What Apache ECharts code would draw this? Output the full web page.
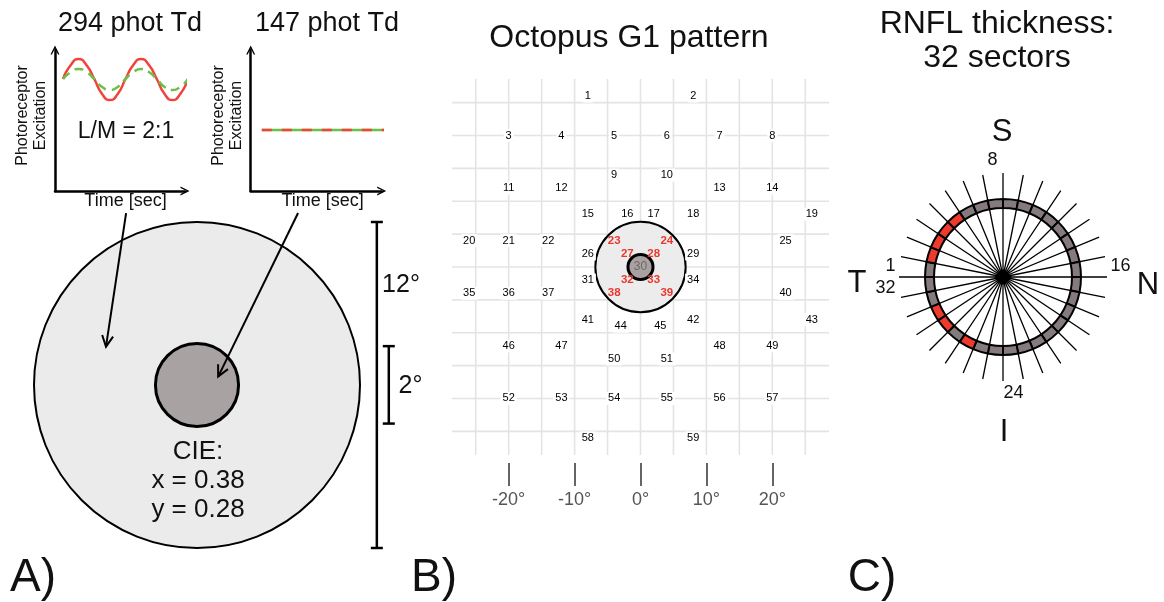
<!DOCTYPE html>
<html><head><meta charset="utf-8">
<script src="https://cdn.jsdelivr.net/npm/echarts@6/dist/echarts.min.js"></script>
<style>html,body{margin:0;padding:0;background:#fff}#c{width:1164px;height:602px}</style>
</head><body><div id="c"></div>
<script>
// ---------- Panel A: photoreceptor excitation traces ----------
const timeSamples = [8,15.8,23.6,31.4,39.3,47.1,54.9,62.7,70.5,78.3,86.1,93.9,101.8,109.6,117.4,125.2,133];
const lConeExcitation = [112,126,132,126,112,97,91,97,112,126,132,126,112,97,91,97,112];
const mConeExcitation = [112,119,122,119,112,104,101,104,112,119,122,119,112,104,101,104,112];
const flatTime = [11, 134];
const flatLExcitation = [61, 61];
const flatMExcitation = [61, 61];
// ---------- Panel A: stimulus (degrees) ----------
const stimulusRadii = [6, 1.53];            // surround, centre
const scaleBarSpans = [[-6, 6], [-1.42, 1.43]];
const scaleBarLabels = ['12°', '2°'];
const arrowStarts = [[-2.61, 6.33], [3.72, 6.33]];
const arrowEnds = [[-3.35, 1.41], [0.78, 0.31]];
// ---------- Panel B: Octopus G1 pattern (degrees) ----------
const g1Ids = [1,2,3,4,5,6,7,8,9,10,11,12,13,14,15,16,17,18,19,20,21,22,23,24,25,26,27,28,29,30,31,32,33,34,35,36,37,38,39,40,41,42,43,44,45,46,47,48,49,50,51,52,53,54,55,56,57,58,59];
const g1X = [-8,8,-20,-12,-4,4,12,20,-4,4,-20,-12,12,20,-8,-2,2,8,26,-26,-20,-14,-4,4,22,-8,-2,2,8,0,-8,-2,2,8,-26,-20,-14,-4,4,22,-8,8,26,-3,3,-20,-12,12,20,-4,4,-20,-12,-4,4,12,20,-8,8];
const g1Y = [26,26,20,20,20,20,20,20,14,14,12,12,12,12,8,8,8,8,8,4,4,4,4,4,4,2,2,2,2,0,-2,-2,-2,-2,-4,-4,-4,-4,-4,-4,-8,-8,-8,-9,-9,-12,-12,-12,-12,-14,-14,-20,-20,-20,-20,-20,-20,-26,-26];
const g1RedIds = [23,24,27,28,32,33,38,39];
const g1CentreId = 30;
const g1StimulusRadii = [6.85, 1.9];
const g1GridValues = [-25,-20,-15,-10,-5,0,5,10,15,20,25];
const g1GridExtent = 28.6;
const g1TickValues = [-20,-10,0,10,20];
// ---------- Panel C: RNFL 32 sectors ----------
const sectorIds = [1,2,3,4,5,6,7,8,9,10,11,12,13,14,15,16,17,18,19,20,21,22,23,24,25,26,27,28,29,30,31,32];
const labelledSectors = [1,8,16,24,32];
const redSectors = [2,3,4,5,27,29,30];
const ringInner = 69, ringOuter = 78, spokeLength = 104;

const FONT = "'Liberation Sans', Arial, Helvetica, sans-serif";
const RED = '#f2433a', GREEN = '#6cbf4a';
const ARROW = 'path://M0,10 L5,0 L10,10 L8.4,10 L5,3.2 L1.6,10 Z';

const chart = echarts.init(document.getElementById('c'), null, {renderer: 'canvas'});

const axisLineStyle = {color: '#000', width: 2.5};
function miniX(gi, padLeft) {
  return {gridIndex: gi, type: 'value', min: 0, max: 130,
    name: 'Time [sec]', nameLocation: 'middle', nameGap: 1,
    nameTextStyle: {fontSize: 18, color: '#111', fontFamily: FONT, padding: [0, 0, 0, padLeft]},
    axisLine: {show: true, onZero: false, symbol: ['none', ARROW], symbolSize: [12, 9], lineStyle: axisLineStyle},
    axisTick: {show: false}, axisLabel: {show: false}, splitLine: {show: false}};
}
function miniY(gi) {
  return {gridIndex: gi, type: 'value', min: 0, max: 141,
    name: 'Photoreceptor\nExcitation', nameLocation: 'middle', nameRotate: 90, nameGap: 5,
    nameTextStyle: {fontSize: 16, lineHeight: 18, color: '#111', fontFamily: FONT, padding: [0, 0, 0, 10]},
    axisLine: {show: true, onZero: false, symbol: ['none', ARROW], symbolSize: [12, 9], lineStyle: axisLineStyle},
    axisTick: {show: false}, axisLabel: {show: false}, splitLine: {show: false}};
}
function txt(text, x, y, size, extra) {
  return {type: 'text', x: x, y: y, z: 100, silent: true,
    style: Object.assign({text: text, font: size + 'px ' + FONT, fill: '#111',
      textAlign: 'center', textVerticalAlign: 'middle', align: 'center', verticalAlign: 'middle'}, extra || {})};
}

const scaleBarX = [6.62, 7.06];

const option = {
  animation: false,
  textStyle: {fontFamily: FONT},
  grid: [
    {left: 55, top: 50, width: 130, height: 141},
    {left: 250.7, top: 50, width: 131, height: 141},
    {left: 34, top: 222, width: 326, height: 326},
    {left: 452, top: 79, width: 377, height: 376}
  ],
  xAxis: [
    miniX(0, 11),
    miniX(1, 13),
    {gridIndex: 2, type: 'value', min: -6, max: 6, show: false},
    {gridIndex: 3, type: 'value', position: 'bottom', min: -g1GridExtent, max: g1GridExtent, offset: 8,
      axisLine: {show: false, onZero: false}, splitLine: {show: false},
      axisTick: {show: true, customValues: g1TickValues, length: 23, lineStyle: {color: '#333', width: 1.5}},
      axisLabel: {show: true, customValues: g1TickValues, formatter: '{value}°', margin: 28, fontSize: 18, color: '#555', fontFamily: FONT}}
  ],
  yAxis: [
    miniY(0),
    miniY(1),
    {gridIndex: 2, type: 'value', min: -6, max: 6, show: false},
    {gridIndex: 3, type: 'value', min: -g1GridExtent, max: g1GridExtent, show: false}
  ],
  polar: {center: [1003, 277], radius: spokeLength},
  angleAxis: {type: 'category', data: sectorIds.map(String), startAngle: 180, clockwise: true, boundaryGap: true,
    axisLine: {show: false}, axisTick: {show: false, interval: 0},
    splitLine: {show: true, interval: 0, lineStyle: {color: '#000', width: 1.3}},
    axisLabel: {show: true, interval: function (i, v) { return labelledSectors.indexOf(+v) >= 0; },
      margin: 4, fontSize: 18, color: '#111', fontFamily: FONT}},
  radiusAxis: {type: 'value', min: 0, max: spokeLength, show: false},
  series: [
    // Panel A mini chart 1
    {type: 'line', xAxisIndex: 0, yAxisIndex: 0, data: timeSamples.map((t, i) => [t, lConeExcitation[i]]),
      smooth: 0.6, showSymbol: false, clip: false, silent: true, z: 3, lineStyle: {color: RED, width: 2.5}},
    {type: 'line', xAxisIndex: 0, yAxisIndex: 0, data: timeSamples.map((t, i) => [t, mConeExcitation[i]]),
      smooth: 0.6, showSymbol: false, clip: false, silent: true, z: 4, lineStyle: {color: GREEN, width: 2.5, type: [9, 6]}},
    // Panel A mini chart 2
    {type: 'line', xAxisIndex: 1, yAxisIndex: 1, data: flatTime.map((t, i) => [t, flatMExcitation[i]]),
      showSymbol: false, clip: false, silent: true, z: 3, lineStyle: {color: GREEN, width: 2.5}},
    {type: 'line', xAxisIndex: 1, yAxisIndex: 1, data: flatTime.map((t, i) => [t, flatLExcitation[i]]),
      showSymbol: false, clip: false, silent: true, z: 4, lineStyle: {color: RED, width: 2.5, type: [10, 10]}},
    // Panel A stimulus circles
    {type: 'custom', xAxisIndex: 2, yAxisIndex: 2, clip: false, silent: true, z: 2,
      data: stimulusRadii.map((r, i) => [0, 0, r, i]),
      renderItem: function (p, api) {
        const c = api.coord([api.value(0), api.value(1)]);
        const r = api.size([api.value(2), 0])[0];
        const i = api.value(3);
        return {type: 'circle', shape: {cx: c[0], cy: c[1], r: r},
          style: {fill: i === 0 ? '#ebebeb' : '#a9a2a2', stroke: '#000', lineWidth: i === 0 ? 2 : 3}};
      }},
    // Panel A scale bars
    {type: 'custom', xAxisIndex: 2, yAxisIndex: 2, clip: false, silent: true, z: 3,
      data: scaleBarSpans.map((s, i) => [scaleBarX[i], s[0], s[1], i]),
      renderItem: function (p, api) {
        const x = api.value(0);
        const a = api.coord([x, api.value(1)]);
        const b = api.coord([x, api.value(2)]);
        const h = 6, st = {stroke: '#000', lineWidth: 2.5};
        return {type: 'group', children: [
          {type: 'line', shape: {x1: a[0], y1: a[1], x2: b[0], y2: b[1]}, style: st},
          {type: 'line', shape: {x1: a[0] - h, y1: a[1], x2: a[0] + h, y2: a[1]}, style: st},
          {type: 'line', shape: {x1: b[0] - h, y1: b[1], x2: b[0] + h, y2: b[1]}, style: st}
        ]};
      }},
    // Panel A arrows
    {type: 'custom', xAxisIndex: 2, yAxisIndex: 2, clip: false, silent: true, z: 5,
      data: arrowStarts.map((s, i) => [s[0], s[1], arrowEnds[i][0], arrowEnds[i][1]]),
      renderItem: function (p, api) {
        const a = api.coord([api.value(0), api.value(1)]);
        const b = api.coord([api.value(2), api.value(3)]);
        const dx = b[0] - a[0], dy = b[1] - a[1], L = Math.sqrt(dx * dx + dy * dy);
        const ux = dx / L, uy = dy / L, hl = 11, hw = 5.5;
        const st = {stroke: '#000', lineWidth: 2, fill: null};
        return {type: 'group', children: [
          {type: 'line', shape: {x1: a[0], y1: a[1], x2: b[0], y2: b[1]}, style: st},
          {type: 'polyline', shape: {points: [
            [b[0] - ux * hl - uy * hw, b[1] - uy * hl + ux * hw], [b[0], b[1]],
            [b[0] - ux * hl + uy * hw, b[1] - uy * hl - ux * hw]]}, style: st}
        ]};
      }},
    // Panel B grid lines
    {type: 'custom', xAxisIndex: 3, yAxisIndex: 3, clip: false, silent: true, z: 1,
      data: g1GridValues.map(v => [v, v]),
      renderItem: function (p, api) {
        const v = api.value(0);
        const a = api.coord([v, -g1GridExtent]), b = api.coord([v, g1GridExtent]);
        const c = api.coord([-g1GridExtent, v]), d = api.coord([g1GridExtent, v]);
        const st = {stroke: '#e4e4e4', lineWidth: 1.6};
        return {type: 'group', children: [
          {type: 'line', shape: {x1: a[0], y1: a[1], x2: b[0], y2: b[1]}, style: st},
          {type: 'line', shape: {x1: c[0], y1: c[1], x2: d[0], y2: d[1]}, style: st}
        ]};
      }},
    // Panel B stimulus circles
    {type: 'custom', xAxisIndex: 3, yAxisIndex: 3, clip: false, silent: true, z: 2,
      data: g1StimulusRadii.map((r, i) => [0, 0, r, i]),
      renderItem: function (p, api) {
        const c = api.coord([api.value(0), api.value(1)]);
        const r = api.size([api.value(2), 0])[0];
        const i = api.value(3);
        return {type: 'circle', shape: {cx: c[0], cy: c[1], r: r},
          style: {fill: i === 0 ? '#ececec' : '#a9a2a2', stroke: '#000', lineWidth: i === 0 ? 2 : 3}};
      }},
    // Panel B test locations
    {type: 'scatter', xAxisIndex: 3, yAxisIndex: 3, silent: true, z: 4, symbol: 'circle', symbolSize: 0,
      itemStyle: {color: '#fff', opacity: 1},
      label: {show: true, position: 'inside', formatter: '{b}', fontSize: 11, color: '#000', fontFamily: FONT,
        backgroundColor: '#fff', padding: [1, 2]},
      data: g1Ids.map((id, i) => {
        const item = {name: String(id), value: [g1X[i], g1Y[i]]};
        if (g1RedIds.indexOf(id) >= 0) item.label = {color: '#e8392e', fontWeight: 'bold', fontSize: 11.5, backgroundColor: 'transparent'};
        else if (id === g1CentreId) item.label = {color: '#6e6868', fontSize: 12, backgroundColor: 'transparent'};
        return item;
      })},
    // Panel C ring
    {type: 'bar', coordinateSystem: 'polar', stack: 'ring', silent: true, barCategoryGap: '0%',
      data: sectorIds.map(() => ringInner), itemStyle: {color: 'rgba(0,0,0,0)', borderWidth: 0}},
    {type: 'bar', coordinateSystem: 'polar', stack: 'ring', silent: true, barCategoryGap: '0%',
      itemStyle: {borderColor: '#000', borderWidth: 2},
      data: sectorIds.map(id => ({value: ringOuter - ringInner,
        itemStyle: {color: redSectors.indexOf(id) >= 0 ? '#ee3b2e' : '#857b7c'}}))}
  ],
  graphic: [
    txt('294 phot Td', 130, 24, 27),
    txt('147 phot Td', 327, 24, 27),
    txt('L/M = 2:1', 126, 132, 23),
    txt('CIE:\nx = 0.38\ny = 0.28', 198, 481, 26, {lineHeight: 29}),
    txt(scaleBarLabels[0], 401, 285, 25),
    txt(scaleBarLabels[1], 410.5, 386, 25),
    txt('Octopus G1 pattern', 629, 38, 32),
    txt('RNFL thickness:\n32 sectors', 997, 41, 32, {lineHeight: 33.5}),
    txt('S', 1002, 132, 31),
    txt('T', 857, 283, 31),
    txt('N', 1148, 285, 31),
    txt('I', 1004, 432, 31),
    txt('A)', 33, 578, 46),
    txt('B)', 434, 578, 46),
    txt('C)', 872, 578, 46)
  ]
};
chart.setOption(option);
</script></body></html>
